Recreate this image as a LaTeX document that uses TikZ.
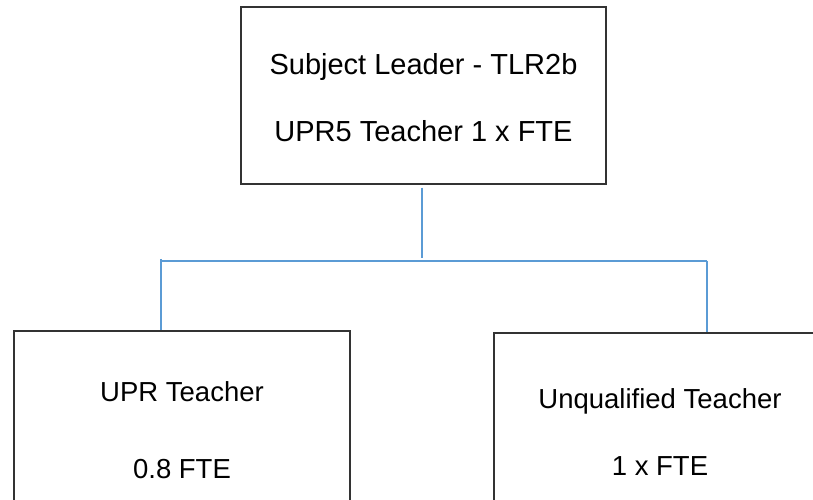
\documentclass[tikz,border=0pt]{standalone}
\usepackage{fontspec}
\setmainfont{Liberation Sans}
\definecolor{linkblue}{HTML}{5B9BD5}
\definecolor{boxline}{HTML}{333333}
\tikzset{
  rolebox/.style={draw=boxline, line width=1.3bp, rectangle, inner sep=0pt},
  roletext/.style={anchor=base, inner sep=0pt, text=black},
  bigtext/.style={roletext, font=\fontsize{29bp}{35bp}\selectfont},
  smalltext/.style={roletext, font=\fontsize{27.5bp}{33bp}\selectfont},
  conn/.style={draw=linkblue, line width=1.2bp}
}
\begin{document}
\begin{tikzpicture}[x=1bp, y=-1bp]
  \useasboundingbox (0,0) rectangle (813,500);
  \clip (0,0) rectangle (813,500);
  \fill[white] (0,0) rectangle (813,500);

  % boxes
  \node[rolebox, minimum width=365bp, minimum height=177bp] (top) at (423.5,95.5) {};
  \node[rolebox, minimum width=336bp, minimum height=176bp] (left) at (182,419) {};
  \node[rolebox, minimum width=332bp, minimum height=176bp] (right) at (660,421) {};

  % box texts
  \node[bigtext] (t1) at (423.5,75) {Subject Leader - TLR2b};
  \node[bigtext] (t2) at (423.5,142) {UPR5 Teacher 1 x FTE};
  \node[smalltext] (l1) at (182,401.5) {UPR Teacher};
  \node[smalltext] (l2) at (182,478) {0.8 FTE};
  \node[smalltext] (r1) at (660,408) {Unqualified Teacher};
  \node[smalltext] (r2) at (660,475) {1 x FTE};

  % connector junctions
  \coordinate (stem) at (422,258);
  \coordinate (jl) at (161,259);
  \coordinate (jr) at (707,261);
  \coordinate (busl) at (161,261);

  % connectors
  \draw[conn, shorten <=3bp] (top.south -| stem) -- (stem);
  \draw[conn] (busl) -- (jr);
  \draw[conn] (jl) -- (jl |- left.north);
  \draw[conn] (jr) -- (jr |- right.north);
\end{tikzpicture}
\end{document}
